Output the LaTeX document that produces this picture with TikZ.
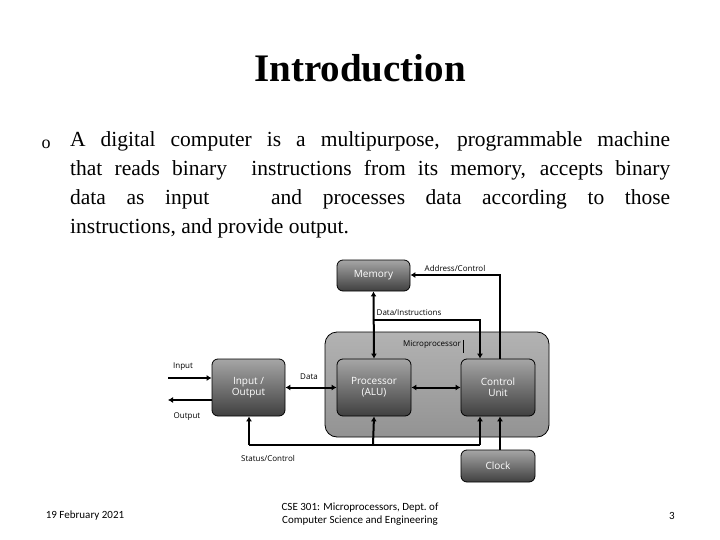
\documentclass[tikz,border=0pt]{standalone}
\usepackage{fontspec}
\setmainfont{Liberation Serif}
\newfontfamily\carl{Carlito}
\newfontfamily\dsans{Open Sans}
\usetikzlibrary{arrows.meta}
\begin{document}
\begin{tikzpicture}[x=1pt,y=-1pt,
  blk/.style={draw=black,line width=0.8pt,rounded corners=6pt,top color=gray!70,bottom color=black!75,text=white,font=\dsans\fontsize{10}{11}\selectfont,align=center,inner sep=0pt},
  conn/.style={line width=2pt,-{Latex[length=5pt,width=6pt]}},
  dconn/.style={line width=2pt,{Latex[length=5pt,width=6pt]}-{Latex[length=5pt,width=6pt]}},
  lbl/.style={font=\dsans\fontsize{8}{9}\selectfont,inner sep=0pt}]
\useasboundingbox (0,0) rectangle (720,540);
\node[font=\bfseries\fontsize{39}{44}\selectfont] (title) at (360,68) {Introduction};
\node[font=\fontsize{18}{29}\selectfont] (bul) at (46,144) {o};
\node[anchor=north west,text width=600pt,align=justify,inner sep=0pt,font=\fontsize{21.5}{29}\selectfont] (para) at (70,131)
{\hyphenpenalty=10000 A digital computer is a multipurpose, programmable machine\linebreak that reads binary\ \ instructions from its memory, accepts binary\linebreak data as input\ \ \ and processes data according to those\linebreak instructions, and provide output.};
% diagram
\node[draw=black,line width=0.8pt,rounded corners=12pt,top color=gray!60,bottom color=gray!85,minimum width=224pt,minimum height=105pt] (micro) at (437,384.5) {};
\node[blk,minimum width=73pt,minimum height=31pt] (mem) at (373.5,275.5) {Memory};
\node[blk,minimum width=73pt,minimum height=57pt] (io) at (248.5,387.5) {Input /\\Output};
\node[blk,minimum width=74pt,minimum height=57pt] (alu) at (374,387.5) {Processor\\(ALU)};
\node[blk,minimum width=74pt,minimum height=57pt] (cu) at (498,387.5) {Control\\Unit};
\node[blk,minimum width=74pt,minimum height=32pt] (clk) at (498,466) {Clock};
\node[lbl] (lmp) at (432,345) {Microprocessor};
\draw[line width=0.6pt] (lmp.north east)++(2,-1) -- ++(0,13);
\coordinate (in0) at (168,378);
\coordinate (out0) at (168,400);
\draw[conn] (in0) -- (io.west|-in0);
\draw[conn] (io.west|-out0) -- (out0);
\node[lbl] (lin) at (183,367) {Input};
\node[lbl] (lout) at (187,417) {Output};
\draw[dconn] (io.east) -- (alu.west);
\node[lbl] (ldata) at (309,377) {Data};
\draw[dconn] (alu.east) -- (cu.west);
\draw[dconn] (mem.south) -- (alu.north);
\coordinate (b1) at (373,320);
\coordinate (b2) at (480,320);
\draw[conn] (b1) -- (b2) -- (b2|-cu.north);
\node[lbl] (ldi) at (409,313) {Data/Instructions};
\coordinate (a1) at (500,275);
\draw[conn] (a1|-cu.north) -- (a1) -- (mem.east|-a1);
\node[lbl] (lac) at (455,268) {Address/Control};
\coordinate (s1) at (249,445);
\coordinate (s2) at (480,445);
\draw[line width=2pt] (s1) -- (s2);
\draw[conn] (s1) -- (s1|-io.south);
\draw[conn] (373,445) -- (alu.south);
\draw[conn] (s2) -- (s2|-cu.south);
\draw[conn] (clk.north-|a1) -- (a1|-cu.south);
\node[lbl] (lsc) at (268,458) {Status/Control};
% footer
\node[font=\carl\fontsize{11}{13}\selectfont] (f1) at (85,516) {19 February 2021};
\node[font=\carl\fontsize{11}{13}\selectfont,align=center] (f2) at (360,514) {CSE 301: Microprocessors, Dept.\ of\\Computer Science and Engineering};
\node[font=\carl\fontsize{11}{13}\selectfont] (f3) at (672,516) {3};
\end{tikzpicture}
\end{document}
